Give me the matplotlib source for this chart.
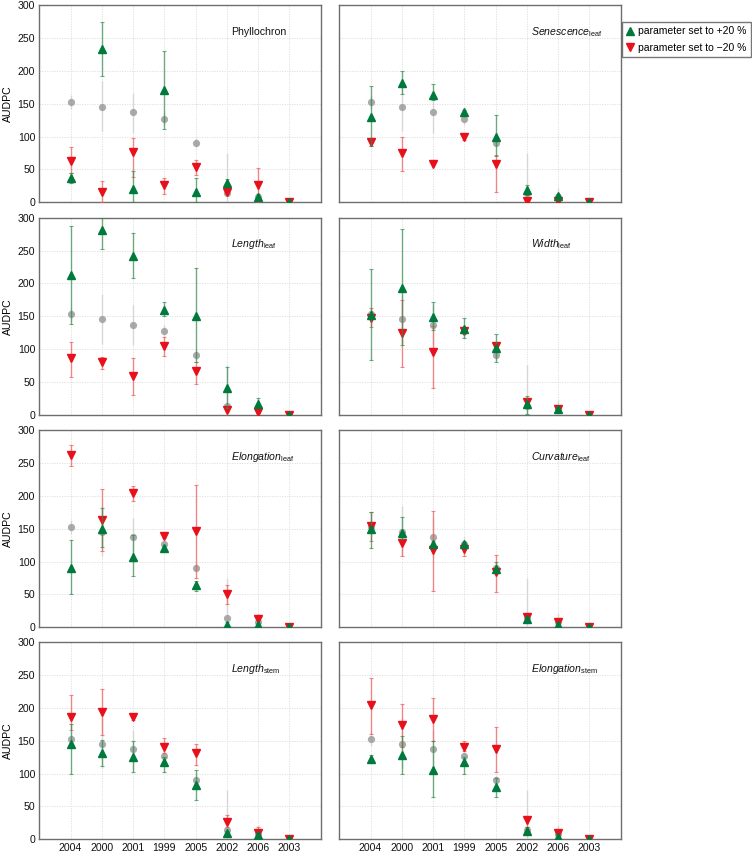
import matplotlib
matplotlib.use("Agg")
import matplotlib.pyplot as plt
import numpy as np

plt.rcParams['font.family'] = ['Liberation Sans', 'DejaVu Sans']
plt.rcParams['mathtext.fontset'] = 'custom'
plt.rcParams['mathtext.rm'] = 'Liberation Sans'
plt.rcParams['mathtext.it'] = 'Liberation Sans:italic'

years = ['2004', '2000', '2001', '1999', '2005', '2002', '2006', '2003']

# reference simulation (grey)
ref_val = [153, 145, 137, 127, 91, 14, 8, 0]
ref_lo = [142, 108, 106, 117, 84, 0, 0, 0]
ref_hi = [163, 184, 167, 137, 98, 75, 22, 0]

# Phyllochron
phyl_up = [37, 233, 20, 171, 15, 29, 8, 0]
phyl_up_lo = [30, 193, 0, 111, 0, 24, 4, 0]
phyl_up_hi = [44, 274, 48, 231, 37, 36, 12, 0]
phyl_dn = [63, 15, 77, 26, 54, 16, 26, 0]
phyl_dn_lo = [44, 0, 39, 12, 41, 12, 0, 0]
phyl_dn_hi = [84, 32, 98, 37, 64, 20, 52, 0]

# Senescence leaf
sen_up = [130, 182, 163, 137, 100, 19, 9, 0]
sen_up_lo = [86, 165, 156, 134, 70, 11, 6, 0]
sen_up_hi = [177, 200, 180, 140, 133, 26, 12, 0]
sen_dn = [92, 75, 59, 100, 58, 2, 2, 0]
sen_dn_lo = [86, 47, 59, 95, 16, 0, 0, 0]
sen_dn_hi = [95, 100, 59, 104, 72, 4, 3, 0]

# Length leaf
lenl_up = [212, 281, 242, 160, 150, 41, 16, 0]
lenl_up_lo = [138, 252, 208, 150, 80, 10, 10, 0]
lenl_up_hi = [288, 300, 276, 171, 224, 72, 25, 0]
lenl_dn = [86, 80, 59, 104, 66, 7, 4, 0]
lenl_dn_lo = [58, 69, 30, 89, 46, 4, 2, 0]
lenl_dn_hi = [110, 88, 86, 118, 81, 10, 6, 0]

# Width leaf
wid_up = [152, 193, 149, 131, 102, 16, 8, 0]
wid_up_lo = [84, 106, 129, 117, 81, 1, 5, 0]
wid_up_hi = [222, 283, 171, 147, 123, 29, 11, 0]
wid_dn = [147, 125, 95, 128, 105, 19, 9, 0]
wid_dn_lo = [133, 73, 40, 125, 102, 15, 7, 0]
wid_dn_hi = [162, 175, 135, 131, 108, 23, 11, 0]

# Elongation leaf
elol_up = [91, 150, 107, 121, 64, 4, 3, 0]
elol_up_lo = [51, 122, 78, 118, 55, 0, 0, 0]
elol_up_hi = [133, 181, 140, 124, 70, 8, 6, 0]
elol_dn = [262, 164, 205, 139, 147, 51, 12, 0]
elol_dn_lo = [245, 116, 192, 136, 75, 35, 6, 0]
elol_dn_hi = [277, 210, 215, 144, 217, 65, 19, 0]

# Curvature leaf
curv_up = [149, 144, 127, 127, 89, 13, 4, 0]
curv_up_lo = [121, 135, 122, 124, 82, 10, 2, 0]
curv_up_hi = [176, 168, 132, 130, 99, 16, 6, 0]
curv_dn = [154, 129, 118, 120, 84, 16, 8, 0]
curv_dn_lo = [131, 108, 55, 108, 54, 13, 6, 0]
curv_dn_hi = [176, 134, 177, 126, 110, 19, 10, 0]

# Length stem
lens_up = [145, 131, 125, 117, 82, 9, 7, 0]
lens_up_lo = [100, 111, 102, 103, 60, 6, 4, 0]
lens_up_hi = [176, 151, 149, 126, 106, 12, 10, 0]
lens_dn = [187, 194, 186, 140, 131, 27, 10, 0]
lens_dn_lo = [166, 159, 181, 131, 113, 19, 4, 0]
lens_dn_hi = [220, 229, 191, 154, 145, 37, 19, 0]

# Elongation stem
elos_up = [123, 128, 106, 117, 80, 13, 4, 0]
elos_up_lo = [118, 100, 64, 100, 64, 8, 2, 0]
elos_up_hi = [128, 157, 149, 126, 93, 18, 6, 0]
elos_dn = [204, 174, 183, 141, 138, 29, 9, 0]
elos_dn_lo = [161, 141, 149, 135, 103, 19, 5, 0]
elos_dn_hi = [245, 206, 215, 149, 171, 36, 14, 0]

titles = ['Phyllochron',
          r'$\mathit{Senescence}_{\mathrm{leaf}}$',
          r'$\mathit{Length}_{\mathrm{leaf}}$',
          r'$\mathit{Width}_{\mathrm{leaf}}$',
          r'$\mathit{Elongation}_{\mathrm{leaf}}$',
          r'$\mathit{Curvature}_{\mathrm{leaf}}$',
          r'$\mathit{Length}_{\mathrm{stem}}$',
          r'$\mathit{Elongation}_{\mathrm{stem}}$']

panels = [
    (phyl_up, phyl_up_lo, phyl_up_hi, phyl_dn, phyl_dn_lo, phyl_dn_hi),
    (sen_up, sen_up_lo, sen_up_hi, sen_dn, sen_dn_lo, sen_dn_hi),
    (lenl_up, lenl_up_lo, lenl_up_hi, lenl_dn, lenl_dn_lo, lenl_dn_hi),
    (wid_up, wid_up_lo, wid_up_hi, wid_dn, wid_dn_lo, wid_dn_hi),
    (elol_up, elol_up_lo, elol_up_hi, elol_dn, elol_dn_lo, elol_dn_hi),
    (curv_up, curv_up_lo, curv_up_hi, curv_dn, curv_dn_lo, curv_dn_hi),
    (lens_up, lens_up_lo, lens_up_hi, lens_dn, lens_dn_lo, lens_dn_hi),
    (elos_up, elos_up_lo, elos_up_hi, elos_dn, elos_dn_lo, elos_dn_hi),
]

GREEN = '#007a3c'
RED = '#e8101a'
GREY = '#9c9c9c'

W, H = 752, 855
fig = plt.figure(figsize=(W / 100, H / 100), dpi=100)

col_left = [39.3, 339.3]
ax_w = 281.4
row_top = [5.3, 217.7, 430.3, 642.3]
ax_h = 197.0

x = np.arange(1, len(years) + 1)


def yerr(v, lo, hi):
    v = np.asarray(v, float)
    return [np.clip(v - np.asarray(lo, float), 0, None),
            np.clip(np.asarray(hi, float) - v, 0, None)]


axes = []
for i, (title, data) in enumerate(zip(titles, panels)):
    r, c = divmod(i, 2)
    ax = fig.add_axes([col_left[c] / W, 1 - (row_top[r] + ax_h) / H,
                       ax_w / W, ax_h / H])
    axes.append(ax)
    up, up_lo, up_hi, dn, dn_lo, dn_hi = data

    ax.errorbar(x, ref_val, yerr=yerr(ref_val, ref_lo, ref_hi), fmt='o',
                ms=5.2, color=GREY, mec='none', alpha=0.85,
                ecolor='#d2d2d2', elinewidth=1.0, capsize=0, zorder=3)
    ax.errorbar(x, dn, yerr=yerr(dn, dn_lo, dn_hi), fmt='v', ms=5.5,
                color=RED, mec=RED, ecolor=(0.93, 0.35, 0.35, 0.7),
                elinewidth=1.0, capsize=1.2, capthick=0.8, zorder=4)
    ax.errorbar(x, up, yerr=yerr(up, up_lo, up_hi), fmt='^', ms=5.5,
                color=GREEN, mec=GREEN, ecolor=(0.2, 0.55, 0.3, 0.7),
                elinewidth=1.0, capsize=1.2, capthick=0.8, zorder=5)

    ax.set_xlim(0, 9)
    ax.set_ylim(0, 300)
    ax.set_xticks(x)
    ax.set_yticks(np.arange(0, 301, 50))
    ax.grid(True, color='#dcdcdc', linestyle=(0, (1.5, 1.5)), linewidth=0.6)
    ax.set_axisbelow(True)
    for s in ax.spines.values():
        s.set_color('#6e6e6e')
        s.set_linewidth(1.0)
    ax.tick_params(length=0, labelsize=7.6, pad=3, colors='#111111')
    if r == 3:
        ax.set_xticklabels(years)
    else:
        ax.set_xticklabels([])
    if c == 0:
        ax.set_ylabel('AUDPC', fontsize=7.6, labelpad=3)
    else:
        ax.set_yticklabels([])
    ax.text(0.68, 0.865, title, transform=ax.transAxes, fontsize=7.6,
            ha='left', va='center', color='#111111')

h_up = plt.Line2D([], [], marker='^', color=GREEN, ls='none', ms=5.5)
h_dn = plt.Line2D([], [], marker='v', color=RED, ls='none', ms=5.5)
leg = axes[1].legend([h_up, h_dn],
                     ['parameter set to +20 %', 'parameter set to \u221220 %'],
                     loc='upper left', bbox_to_anchor=(1.005, 0.917),
                     fontsize=7.5, frameon=True, fancybox=False,
                     borderpad=0.45, handlelength=0.6, handletextpad=0.5,
                     labelspacing=0.6, borderaxespad=0)
leg.get_frame().set_edgecolor('#555555')
leg.get_frame().set_linewidth(1.0)

fig.savefig('out.png', dpi=100)
